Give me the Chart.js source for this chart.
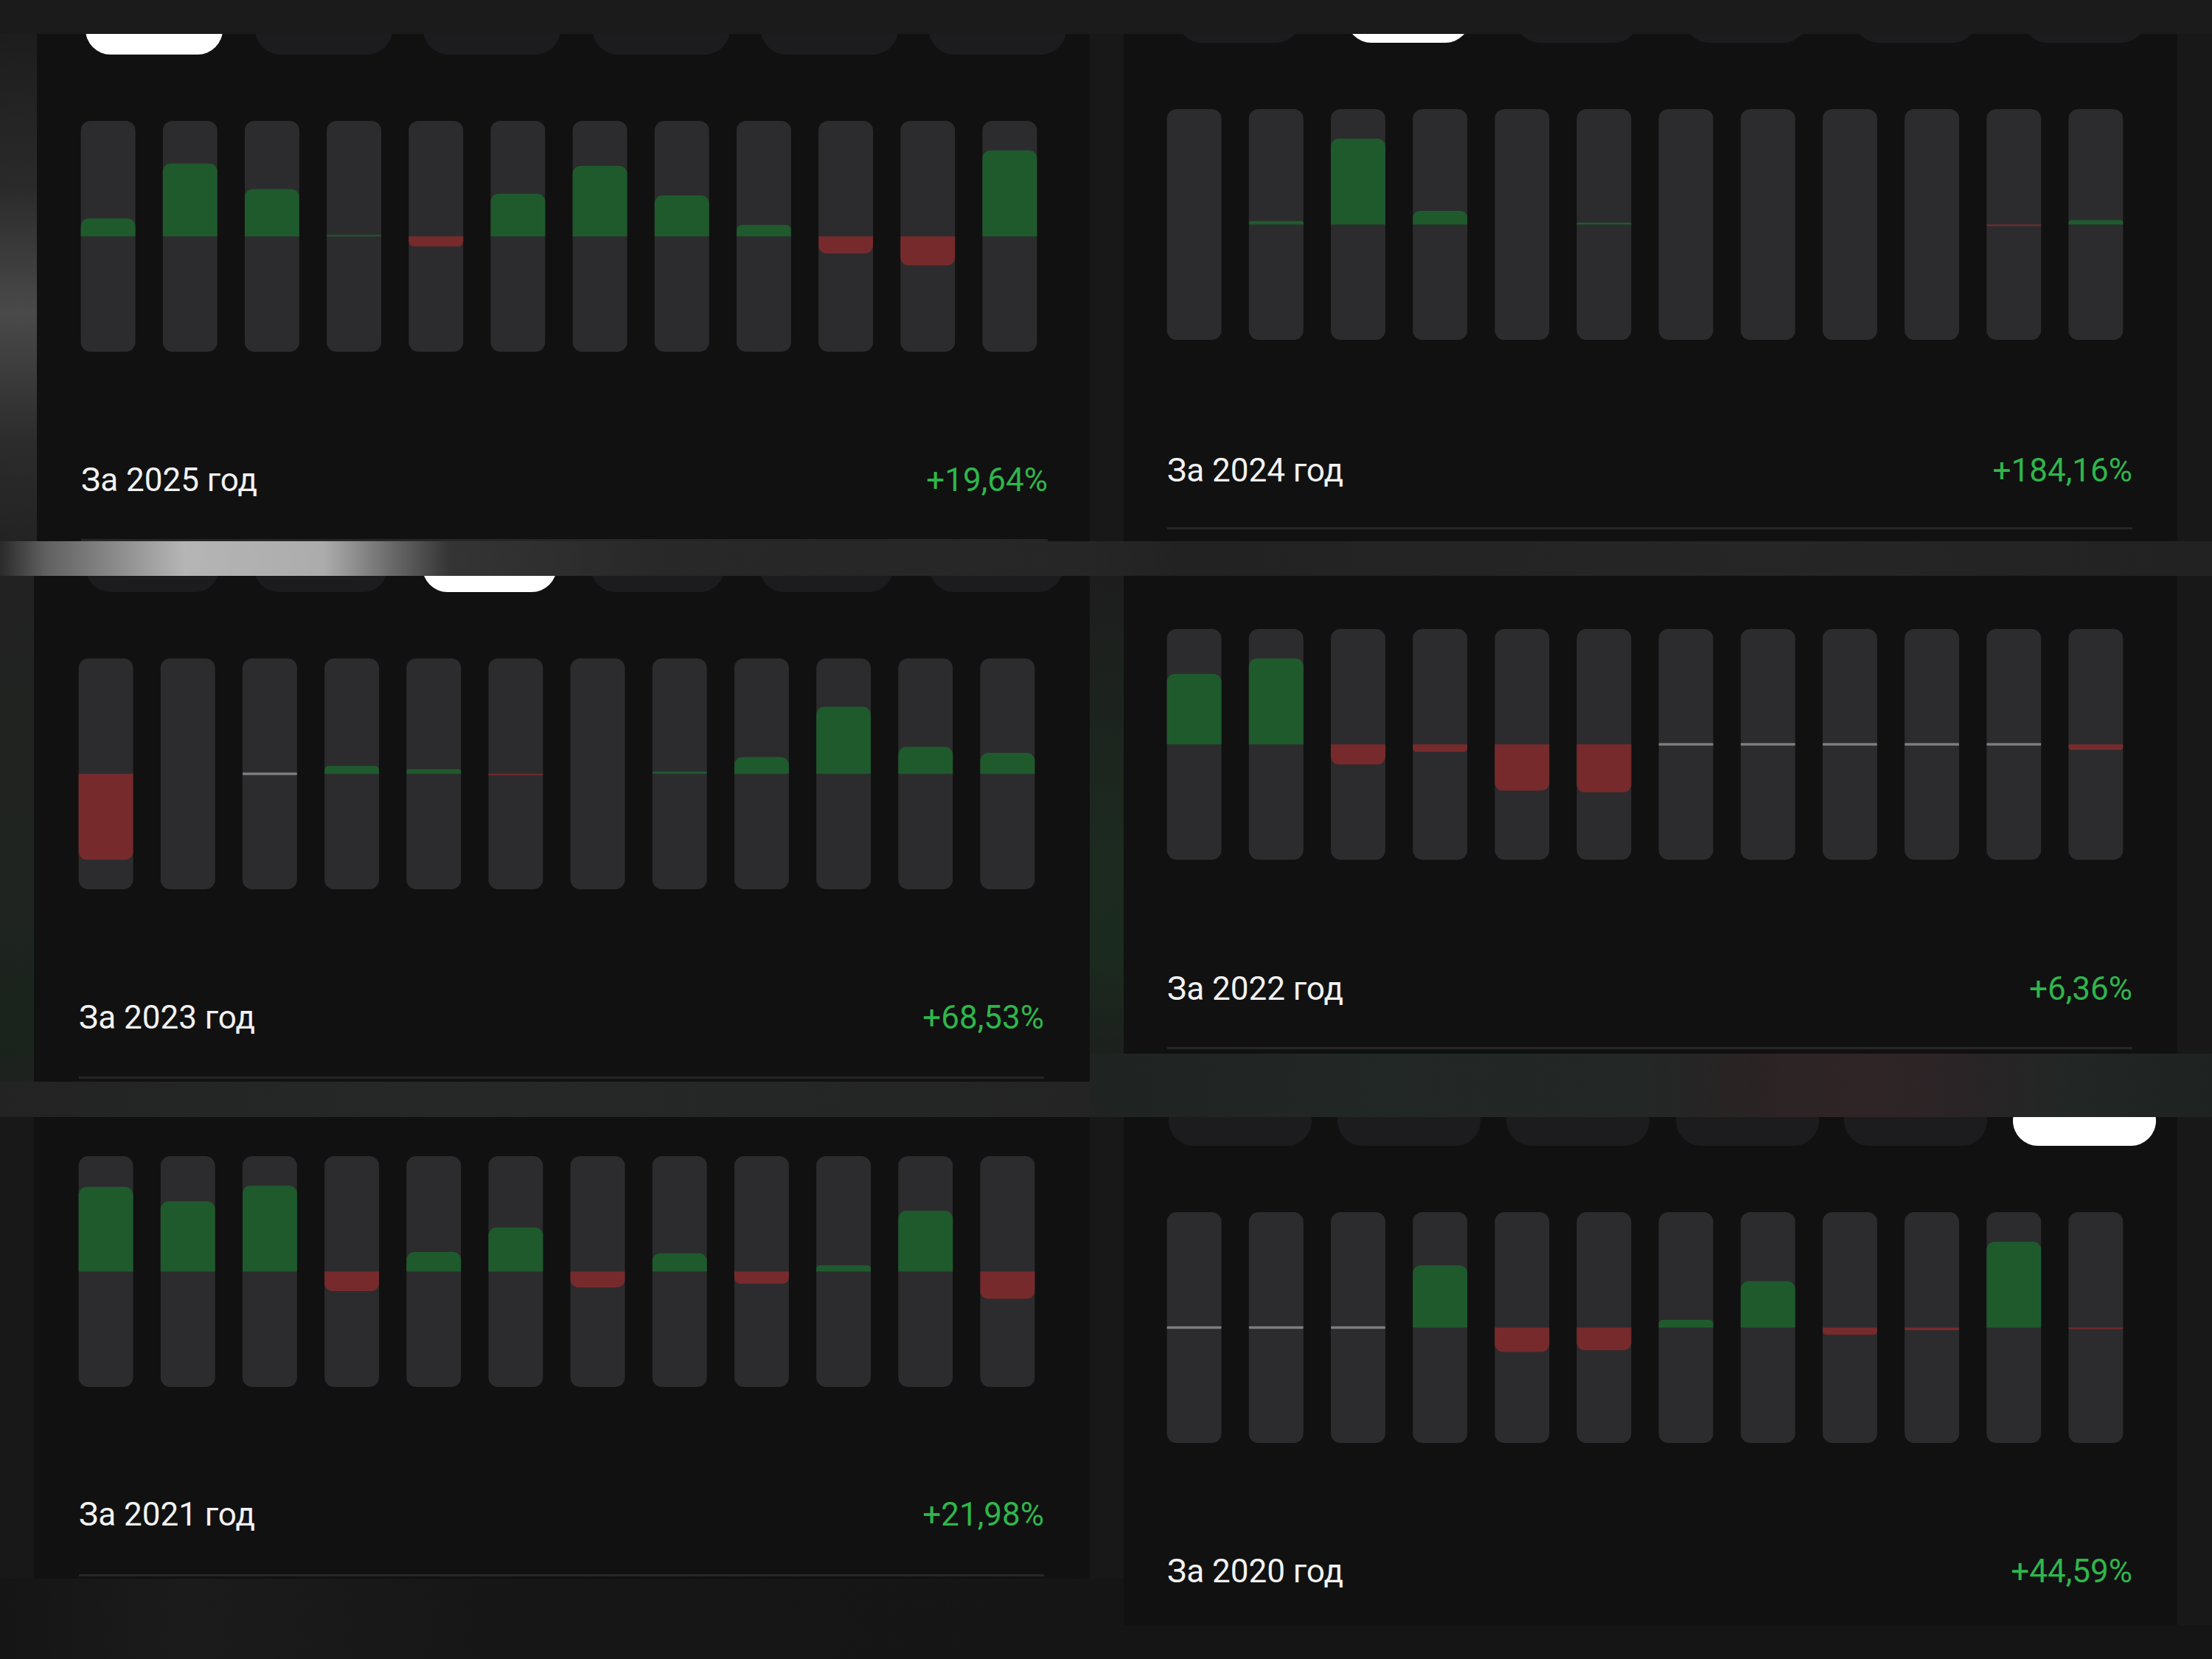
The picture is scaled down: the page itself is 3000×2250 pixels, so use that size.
<!DOCTYPE html>
<html>
<head>
<meta charset="utf-8">
<script src="https://cdn.jsdelivr.net/npm/chart.js@4.4.1/dist/chart.umd.min.js"></script>
<style>
  html, body { margin: 0; padding: 0; }
  body { width: 3000px; height: 2250px; position: relative; overflow: hidden; background: #181818; font-family: Roboto, 'Noto Sans', sans-serif; }
  .bg { position: absolute; }
  .card { position: absolute; background: #111111; overflow: hidden; }
  .pill { position: absolute; height: 68px; border-radius: 34px; background: #1c1c1e; }
  .pill.on { background: #ffffff; }
  .title, .total { position: absolute; font-size: 44px; line-height: 44px; white-space: nowrap; }
  .title { color: #f2f2f2; }
  .total { color: #2fb64b; }
  .sep { position: absolute; height: 3px; background: #262626; }
  canvas { position: absolute; }
</style>
</head>
<body>
<div class="bg" style="left:0;top:0;width:3000px;height:46px;background:#1b1b1b"></div>
<div class="bg" style="left:0;top:46px;width:50px;height:688px;background:linear-gradient(180deg,#1d1d1d 0,#2a2a2a 30%,#4a4a4a 55%,#2c2c2c 80%,#232323 100%)"></div>
<div class="bg" style="left:0;top:734px;width:3000px;height:47px;background:linear-gradient(90deg,#2a2a2a 0,#5f5f5f 60px,#b5b5b5 250px,#acacac 440px,#6a6a6a 530px,#343434 610px,#282828 900px,#262626 1478px,#222 1600px,#262626 2400px,#222 3000px)"></div>
<div class="bg" style="left:0;top:781px;width:46px;height:734px;background:linear-gradient(180deg,#222 0,#1f2420 60%,#1a231c 85%,#202020 100%)"></div>
<div class="bg" style="left:1478px;top:781px;width:46px;height:686px;background:linear-gradient(180deg,#1d1d1d 0,#1c2a20 55%,#1b2a1f 75%,#1d1d1d 100%)"></div>
<div class="bg" style="left:0;top:1467px;width:1524px;height:48px;background:linear-gradient(90deg,#232323 0,#262828 600px,#242424 1524px)"></div>
<div class="bg" style="left:1478px;top:1429px;width:1522px;height:86px;background:linear-gradient(90deg,#1f2321 0,#222826 400px,#232726 750px,#2a2324 900px,#302526 1050px,#2a2426 1180px,#222725 1330px,#1e2220 1522px)"></div>
<div class="bg" style="left:0;top:2141px;width:1524px;height:109px;background:linear-gradient(90deg,#151515 0,#1b1b1b 250px,#161616 700px,#151515 1524px)"></div>
<div class="bg" style="left:1524px;top:2204px;width:1476px;height:46px;background:#151515"></div>

<script>
  'use strict'

  const months = ['Янв', 'Фев', 'Мар', 'Апр', 'Май', 'Июн', 'Июл', 'Авг', 'Сен', 'Окт', 'Ноя', 'Дек']
  const years = ['2025', '2024', '2023', '2022', '2021', '2020']
  const totals = ['+19,64%', '+184,16%', '+68,53%', '+6,36%', '+21,98%', '+44,59%']

  // monthly result, %  (null = no data, 0 = flat month)
  const m2025 = [0.96, 3.90, 2.53, 0.05, -0.54, 2.28, 3.78, 2.19, 0.61, -0.92, -1.56, 4.61]
  const m2024 = [null, 4.8, 115, 18.2, null, 2.4, null, null, null, null, -1.0, 5.8]
  const m2023 = [-24.1, null, 0, 2.2, 1.3, -0.3, null, 0.6, 4.7, 18.8, 7.6, 5.9]
  const m2022 = [15.4, 18.8, -4.4, -1.65, -10.1, -10.5, 0, 0, 0, 0, 0, -1.2]
  const m2021 = [5.9, 4.9, 6.0, -1.36, 1.36, 3.07, -1.1, 1.28, -0.85, 0.44, 4.25, -1.9]
  const m2020 = [0, 0, 0, 19.2, -7.5, -7.0, 2.4, 14.3, -2.2, -0.8, 26.5, -0.3]
  const monthly = [m2025, m2024, m2023, m2022, m2021, m2020]

  const GREEN = '#1f5a2d'
  const RED = '#772a2c'
  const TRACK = '#2c2c2e'
  const FLAT = '#7d7d7d'
  const FILL = 0.745 // tallest bar takes this share of half a track
  const STEP = 111.2
  const PLOT_H = 313

  // card placement, page px
  const cards = [
    { x: 50, y: 46, w: 1428, h: 688, c0: 147, top: 164, tx: 110, right: 1421, base: 666, sep: 732,
      pills: { bottom: 28, w: 186, on: 0, c: [209, 439, 667, 897, 1125, 1353] } },
    { x: 1524, y: 46, w: 1429, h: 688, c0: 1620, top: 148, tx: 1583, right: 2892, base: 653, sep: 716,
      pills: { bottom: 12, w: 168, on: 1, c: [1680, 1910, 2139, 2368, 2598, 2827] } },
    { x: 46, y: 781, w: 1432, h: 686, c0: 143.5, top: 893, tx: 107, right: 1416, base: 1395, sep: 1461,
      pills: { bottom: 22, w: 182, on: 2, c: [207, 435, 664, 892, 1121, 1351] } },
    { x: 1524, y: 781, w: 1429, h: 648, c0: 1620, top: 853, tx: 1583, right: 2892, base: 1356, sep: 1421, pills: null },
    { x: 46, y: 1515, w: 1432, h: 626, c0: 143.5, top: 1568, tx: 107, right: 1416, base: 2069, sep: 2136, pills: null },
    { x: 1524, y: 1515, w: 1429, h: 689, c0: 1620, top: 1644, tx: 1583, right: 2892, base: 2146, sep: null,
      pills: { bottom: 39, w: 194, on: 5, c: [1682, 1911, 2140, 2370, 2598, 2827] } }
  ]

  function el (cls, css, parent, text) {
    const d = document.createElement('div')
    d.className = cls
    Object.assign(d.style, css)
    if (text) d.textContent = text
    ;(parent || document.body).appendChild(d)
    return d
  }

  cards.forEach((c, i) => {
    const card = el('card', { left: c.x + 'px', top: c.y + 'px', width: c.w + 'px', height: c.h + 'px' })
    if (c.pills) {
      c.pills.c.forEach((cx, k) => {
        el(k === c.pills.on ? 'pill on' : 'pill', {
          left: (cx - c.pills.w / 2 - c.x) + 'px',
          top: (c.pills.bottom - 68) + 'px',
          width: c.pills.w + 'px'
        }, card)
      })
    }
    el('title', { left: c.tx + 'px', top: (c.base - 37) + 'px' }, null, 'За ' + years[i] + ' год')
    el('total', { right: (3000 - c.right) + 'px', top: (c.base - 37) + 'px' }, null, totals[i])
    if (c.sep) el('sep', { left: c.tx + 'px', top: (c.sep - 1) + 'px', width: (c.right - c.tx) + 'px' })

    const canvas = document.createElement('canvas')
    canvas.width = Math.round(STEP * 12)
    canvas.height = PLOT_H
    canvas.style.left = (c.c0 - STEP / 2) + 'px'
    canvas.style.top = c.top + 'px'
    document.body.appendChild(canvas)
    drawYear(canvas, monthly[i])
  })

  function drawYear (canvas, values) {
    const peak = Math.max(...values.filter(v => v !== null).map(Math.abs))
    const lim = peak / FILL
    const flatHalf = lim * 1.7 / (PLOT_H / 2)

    // eslint-disable-next-line no-unused-vars
    const chart = new Chart(canvas, {
      type: 'bar',
      data: {
        labels: months,
        datasets: [{
          data: values.map(v => (v === 0 ? null : v)),
          backgroundColor: values.map(v => (v > 0 ? GREEN : RED)),
          borderRadius: 11,
          borderSkipped: 'start',
          minBarLength: 2,
          order: 0
        }, {
          data: values.map(v => (v === 0 ? [-flatHalf, flatHalf] : null)),
          backgroundColor: FLAT,
          borderRadius: 1,
          borderSkipped: false,
          order: 1
        }, {
          data: months.map(() => [-lim, lim]),
          backgroundColor: TRACK,
          borderRadius: 13,
          borderSkipped: false,
          order: 2
        }]
      },
      options: {
        responsive: false,
        animation: false,
        devicePixelRatio: 1,
        layout: { padding: 0 },
        datasets: {
          bar: { grouped: false, barPercentage: 0.665, categoryPercentage: 1 }
        },
        scales: {
          x: { display: false },
          y: { display: false, min: -lim, max: lim }
        },
        plugins: {
          legend: { display: false },
          tooltip: { enabled: false }
        }
      }
    })
  }
</script>
</body>
</html>
